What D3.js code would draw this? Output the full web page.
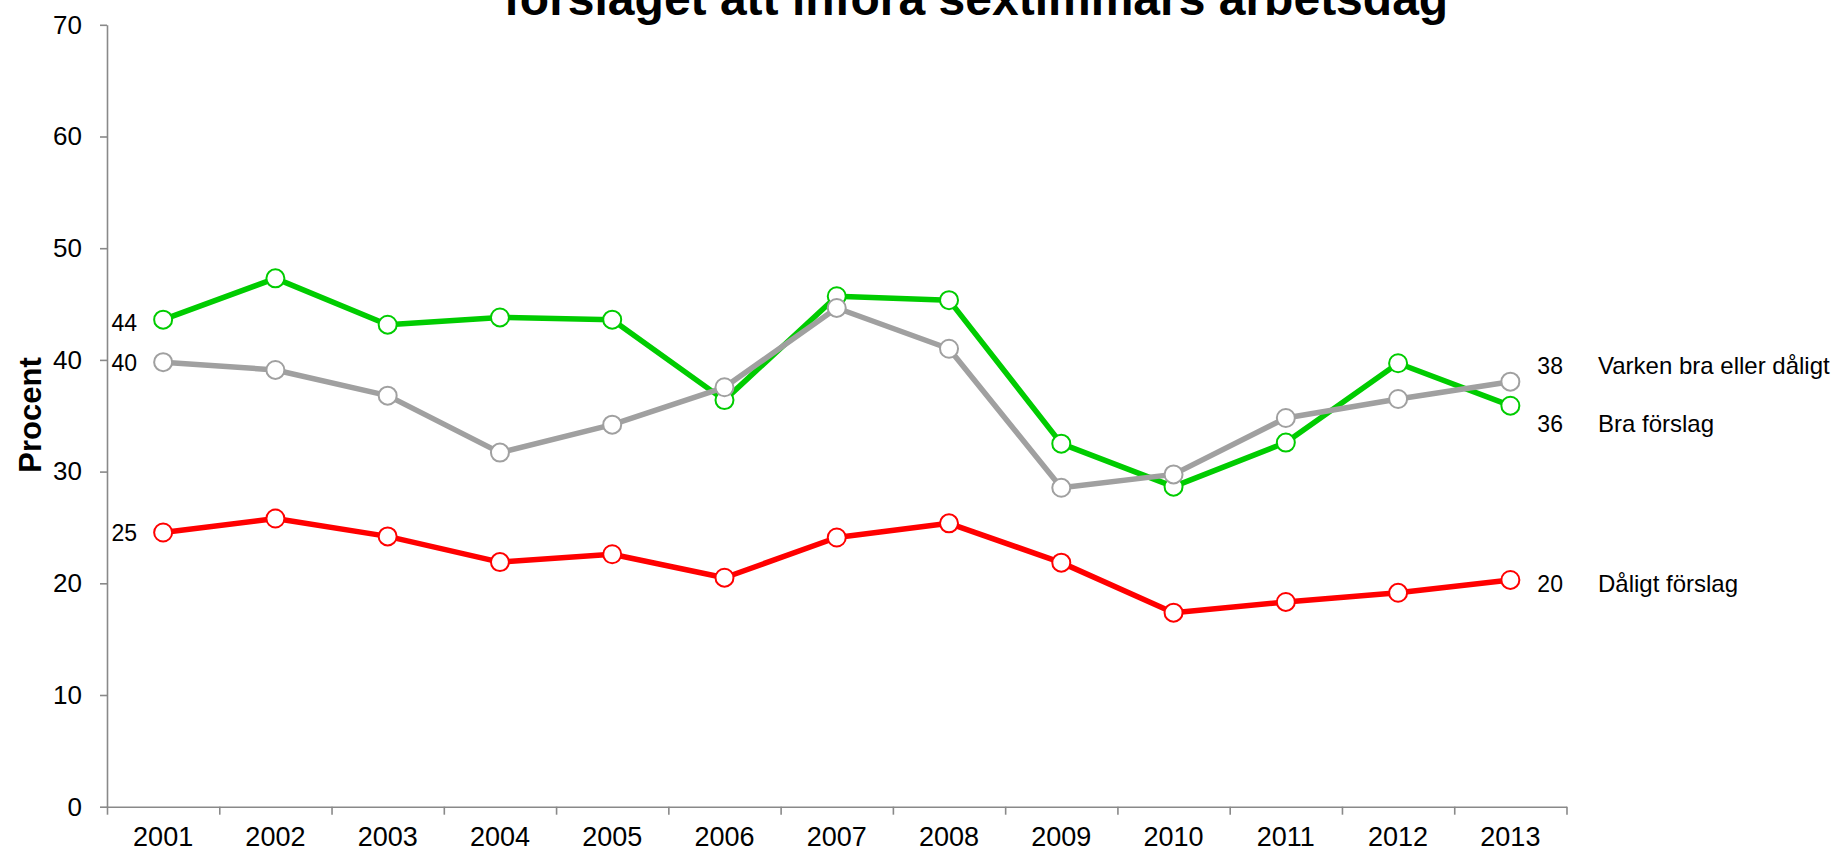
<!DOCTYPE html>
<html>
<head>
<meta charset="utf-8">
<script src="https://cdn.jsdelivr.net/npm/d3@7"></script>
<style>
  html, body { margin: 0; padding: 0; background: #fff; }
  svg { display: block; font-family: "Liberation Sans", Arial, sans-serif; }
</style>
</head>
<body>
<svg id="chart" width="1834" height="851"></svg>
<script>
// ---- Data ----
const years = ["2001","2002","2003","2004","2005","2006","2007","2008","2009","2010","2011","2012","2013"];
const braForslag = [43.6, 47.3, 43.15, 43.8, 43.6, 36.4, 45.7, 45.35, 32.5, 28.65, 32.6, 39.7, 35.9];
const varkenBraEllerDaligt = [39.8, 39.1, 36.8, 31.7, 34.2, 37.55, 44.65, 41.0, 28.55, 29.75, 34.8, 36.5, 38.05];
const daligtForslag = [24.55, 25.8, 24.2, 21.9, 22.6, 20.5, 24.1, 25.37, 21.85, 17.37, 18.33, 19.15, 20.3];
const yTicks = [0, 10, 20, 30, 40, 50, 60, 70];
const titleText = "förslaget att införa sextimmars arbetsdag";
const yAxisTitle = "Procent";
const seriesNames = ["Bra förslag", "Varken bra eller dåligt", "Dåligt förslag"];
const startLabels = ["44", "40", "25"];
const endLabels = ["36", "38", "20"];

// ---- Layout / style ----
const colors = ["#00cc00", "#a0a0a0", "#ff0000"];
const endLabelDy = [18, -16, 4];
const startLabelDy = [3, 1, 0];
const plotLeft = 107, plotRight = 1566.5, plotTop = 24.8, plotBottom = 806.7;
const axisColor = "#898989";

const svg = d3.select("#chart");
const x = d3.scaleBand().domain(years).range([plotLeft, plotRight]);
const xEdge = d3.scaleLinear().domain([0, years.length]).range([plotLeft, plotRight]);
const y = d3.scaleLinear().domain([0, 70]).range([plotBottom, plotTop]);
const cx = d => x(d) + x.bandwidth() / 2;

// Title (visible line)
svg.append("text")
  .attr("x", 976).attr("y", 15)
  .attr("text-anchor", "middle")
  .attr("font-size", 48).attr("font-weight", "bold")
  .attr("fill", "#000")
  .text(titleText);

// Y axis
const yAxis = svg.append("g")
  .attr("transform", `translate(${plotLeft},0)`)
  .call(d3.axisLeft(y).tickValues(yTicks).tickSize(7).tickSizeOuter(0).tickPadding(18));
yAxis.selectAll("text").attr("font-size", 26).attr("fill", "#000").attr("font-family", "Liberation Sans, Arial, sans-serif");

// X axis ticks at band edges
svg.append("g")
  .attr("transform", `translate(0,${plotBottom})`)
  .call(d3.axisBottom(xEdge).tickValues(d3.range(years.length + 1)).tickSize(8).tickSizeOuter(0).tickFormat(""));
// X axis labels at band centers
const xLabG = svg.append("g")
  .attr("transform", `translate(0,${plotBottom})`)
  .call(d3.axisBottom(x).tickSize(0).tickPadding(20));
xLabG.select(".domain").remove();
xLabG.selectAll("text").attr("font-size", 27).attr("fill", "#000").attr("font-family", "Liberation Sans, Arial, sans-serif");

svg.selectAll(".domain, .tick line").attr("stroke", axisColor).attr("stroke-width", 1.6);

// Y axis title
svg.append("text")
  .attr("transform", `translate(41,415) rotate(-90)`)
  .attr("text-anchor", "middle")
  .attr("font-size", 31).attr("font-weight", "bold")
  .attr("fill", "#000")
  .text(yAxisTitle);

// Series
const allSeries = [braForslag, varkenBraEllerDaligt, daligtForslag];
const line = d3.line().x((d, i) => cx(years[i])).y(d => y(d));

allSeries.forEach((vals, s) => {
  const g = svg.append("g");
  g.append("path")
    .datum(vals)
    .attr("d", line)
    .attr("fill", "none")
    .attr("stroke", colors[s])
    .attr("stroke-width", 5.5)
    .attr("stroke-linejoin", "round");
  g.selectAll("circle")
    .data(vals)
    .join("circle")
    .attr("cx", (d, i) => cx(years[i]))
    .attr("cy", d => y(d))
    .attr("r", 9)
    .attr("fill", "#fff")
    .attr("stroke", colors[s])
    .attr("stroke-width", 2);
});

// Start labels
allSeries.forEach((vals, s) => {
  svg.append("text")
    .attr("x", cx(years[0]) - 26)
    .attr("y", y(vals[0]) + startLabelDy[s])
    .attr("dy", "0.35em")
    .attr("text-anchor", "end")
    .attr("font-size", 23)
    .attr("fill", "#000")
    .text(startLabels[s]);
});

// End labels and series names
allSeries.forEach((vals, s) => {
  const last = vals.length - 1;
  const yy = y(vals[last]) + endLabelDy[s];
  svg.append("text")
    .attr("x", cx(years[last]) + 27)
    .attr("y", yy)
    .attr("dy", "0.35em")
    .attr("font-size", 23)
    .attr("fill", "#000")
    .text(endLabels[s]);
  svg.append("text")
    .attr("x", 1598)
    .attr("y", yy)
    .attr("dy", "0.35em")
    .attr("font-size", 24)
    .attr("fill", "#000")
    .text(seriesNames[s]);
});
</script>
</body>
</html>
